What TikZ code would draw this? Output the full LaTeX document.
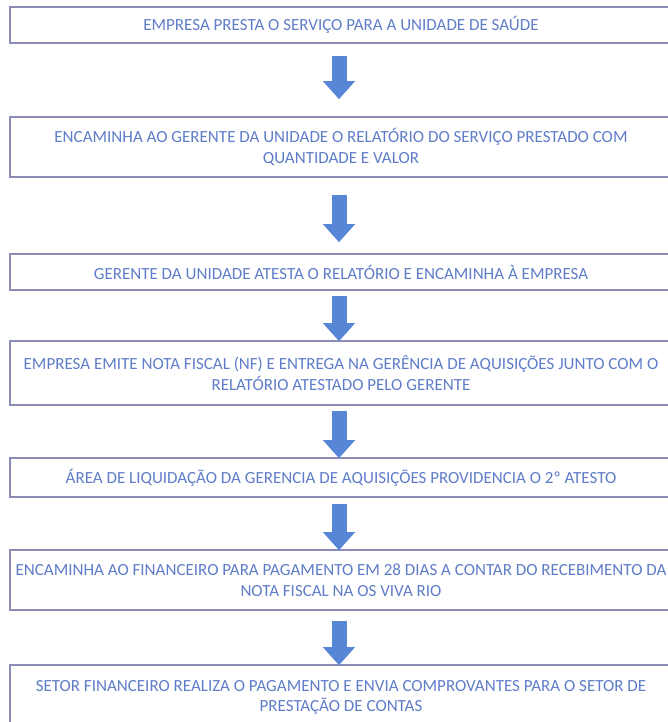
\documentclass[tikz,border=0pt]{standalone}
\usepackage{fontspec}
\setmainfont{Carlito}
\usetikzlibrary{arrows.meta}
\definecolor{boxline}{RGB}{140,140,185}
\definecolor{boxtext}{RGB}{95,125,200}
\definecolor{arrowblue}{RGB}{88,134,214}
\begin{document}
\begin{tikzpicture}[x=1pt,y=1pt,
  stepbox/.style={draw=boxline, line width=1.6pt, fill=white, minimum width=662pt,
    inner sep=0pt, align=center, text=boxtext,
    font=\fontsize{17}{20.5}\selectfont},
  blockarrow/.style={draw=arrowblue, line width=15pt,
    -{Triangle[width=31pt,length=18pt]}}]
\useasboundingbox (0,0) rectangle (668,-722);
\clip (0,0) rectangle (668,-722);
\fill[white] (0,0) rectangle (668,-722);
\node[stepbox, minimum height=36pt] (b1) at (341,-25) {EMPRESA PRESTA O SERVIÇO PARA A UNIDADE DE SAÚDE};
\node[stepbox, minimum height=60pt] (b2) at (341,-147) {ENCAMINHA AO GERENTE DA UNIDADE O RELATÓRIO DO SERVIÇO PRESTADO COM\\QUANTIDADE E VALOR};
\node[stepbox, minimum height=36pt] (b3) at (341,-272) {GERENTE DA UNIDADE ATESTA O RELATÓRIO E ENCAMINHA À EMPRESA};
\node[stepbox, minimum height=64pt] (b4) at (341,-373) {EMPRESA EMITE NOTA FISCAL (NF) E ENTREGA NA GERÊNCIA DE AQUISIÇÕES JUNTO COM O\\RELATÓRIO ATESTADO PELO GERENTE};
\node[stepbox, minimum height=39pt] (b5) at (341,-477.5) {ÁREA DE LIQUIDAÇÃO DA GERENCIA DE AQUISIÇÕES PROVIDENCIA O 2º ATESTO};
\node[stepbox, minimum height=60pt] (b6) at (341,-580) {ENCAMINHA AO FINANCEIRO PARA PAGAMENTO EM 28 DIAS A CONTAR DO RECEBIMENTO DA\\NOTA FISCAL NA OS VIVA RIO};
\node[stepbox, minimum height=65pt] (b7) at (341,-697.5) {SETOR FINANCEIRO REALIZA O PAGAMENTO E ENVIA COMPROVANTES PARA O SETOR DE\\PRESTAÇÃO DE CONTAS};
\draw[blockarrow] ([xshift=-2pt,yshift=-12pt]b1.south) -- ([xshift=-2pt,yshift=17pt]b2.north);
\draw[blockarrow] ([xshift=-2pt,yshift=-17pt]b2.south) -- ([xshift=-2pt,yshift=11pt]b3.north);
\draw[blockarrow] ([xshift=-2pt,yshift=-5pt]b3.south) -- ([xshift=-2pt,yshift=-1pt]b4.north);
\draw[blockarrow] ([xshift=-2pt,yshift=-5pt]b4.south) -- ([xshift=-2pt,yshift=-1pt]b5.north);
\draw[blockarrow] ([xshift=-2pt,yshift=-6pt]b5.south) -- ([xshift=-2pt,yshift=-1pt]b6.north);
\draw[blockarrow] ([xshift=-2pt,yshift=-10pt]b6.south) -- ([xshift=-2pt,yshift=-1pt]b7.north);
\end{tikzpicture}
\end{document}
